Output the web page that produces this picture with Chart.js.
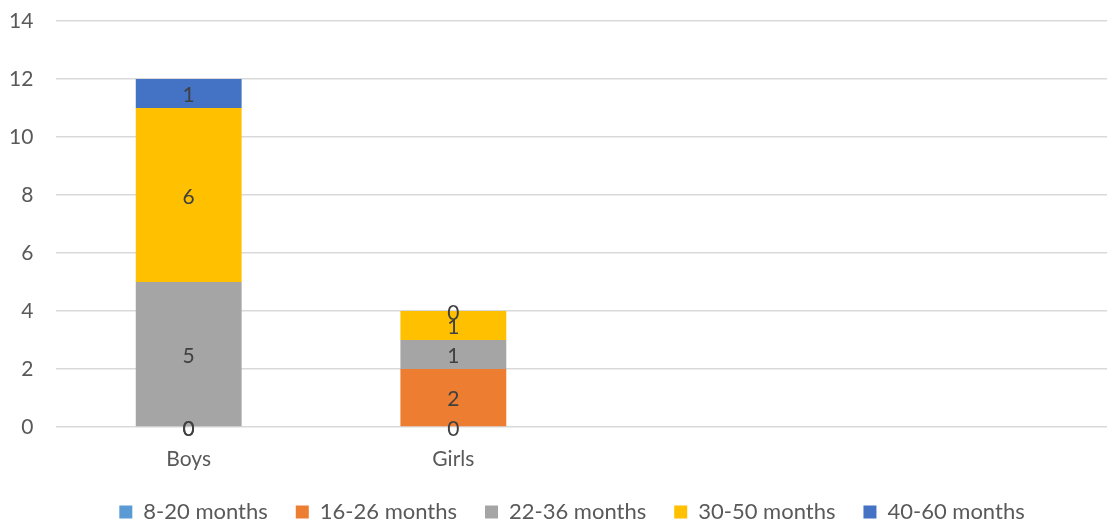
<!DOCTYPE html>
<html>
<head>
<meta charset="utf-8">
<script src="https://cdn.jsdelivr.net/npm/chart.js@4"></script>
<style>
  html, body { margin: 0; padding: 0; background: #fff; overflow: hidden; }
  #wrap { width: 1115px; height: 523px; }
</style>
</head>
<body>
<div id="wrap"><canvas id="ageChart"></canvas></div>
<script>
const groups = ['Boys', 'Girls', '', ''];
const ranges = ['8-20 months', '16-26 months', '22-36 months', '30-50 months', '40-60 months'];
const m8to20 = [0, 0];
const m16to26 = [0, 2];
const m22to36 = [5, 1];
const m30to50 = [6, 1];
const m40to60 = [1, 0];
const colours = ['#5B9BD5', '#ED7D31', '#A5A5A5', '#FFC000', '#4472C4'];
const yTicks = [0, 2, 4, 6, 8, 10, 12, 14];

const fontFamily = 'Lato, "Liberation Sans", sans-serif';

// value labels in the middle of every segment, zeros included
const segmentLabels = {
    id: 'segmentLabels',
    afterDatasetsDraw(chart) {
        const ctx = chart.ctx;
        ctx.save();
        ctx.font = '21px ' + fontFamily;
        ctx.fillStyle = '#404040';
        ctx.textAlign = 'center';
        ctx.textBaseline = 'middle';
        chart.data.datasets.forEach((ds, i) => {
            chart.getDatasetMeta(i).data.forEach((bar, j) => {
                if (ds.data[j] === undefined || ds.data[j] === null) return;
                const mid = (bar.y + bar.base) / 2;
                ctx.fillText(String(ds.data[j]), bar.x, mid + 2);
            });
        });
        ctx.restore();
    }
};

// legend sits a little right of the window centre in the original
const legendShift = {
    id: 'legendShift',
    afterLayout(chart) {
        const lg = chart.legend;
        const dx = 572 - (lg.left + lg.right) / 2;
        lg.left += dx;
        lg.right += dx;
    }
};

const series = [m8to20, m16to26, m22to36, m30to50, m40to60];

new Chart(document.getElementById('ageChart').getContext('2d'), {
    type: 'bar',
    data: {
        labels: groups,
        datasets: series.map((vals, i) => ({
            label: ranges[i],
            data: vals,
            backgroundColor: colours[i],
            barPercentage: 0.4,
            categoryPercentage: 1.0
        }))
    },
    options: {
        responsive: true,
        maintainAspectRatio: false,
        animation: false,
        layout: { padding: { left: -14, right: 0, top: 21, bottom: -10 } },
        scales: {
            x: {
                stacked: true,
                afterFit(axis) { axis.height = 46; },
                grid: { display: false, drawTicks: false },
                border: { display: false },
                ticks: { color: '#595959', font: { size: 21, family: fontFamily }, padding: 20 }
            },
            y: {
                stacked: true,
                min: 0,
                max: 14,
                afterBuildTicks(axis) { axis.ticks = yTicks.map(v => ({ value: v })); },
                afterFit(axis) {
                    axis.paddingTop = 0;
                    axis.paddingBottom = 0;
                },
                grid: { color: '#d9d9d9', lineWidth: 1.5, drawTicks: false },
                border: { display: false },
                ticks: { color: '#595959', font: { size: 21, family: fontFamily }, padding: 23 }
            }
        },
        plugins: {
            legend: {
                position: 'bottom',
                labels: {
                    color: '#595959',
                    font: { size: 22, family: fontFamily },
                    boxWidth: 13,
                    boxHeight: 13,
                    padding: 28
                }
            },
            tooltip: { enabled: false }
        }
    },
    plugins: [segmentLabels, legendShift]
});
</script>
</body>
</html>
